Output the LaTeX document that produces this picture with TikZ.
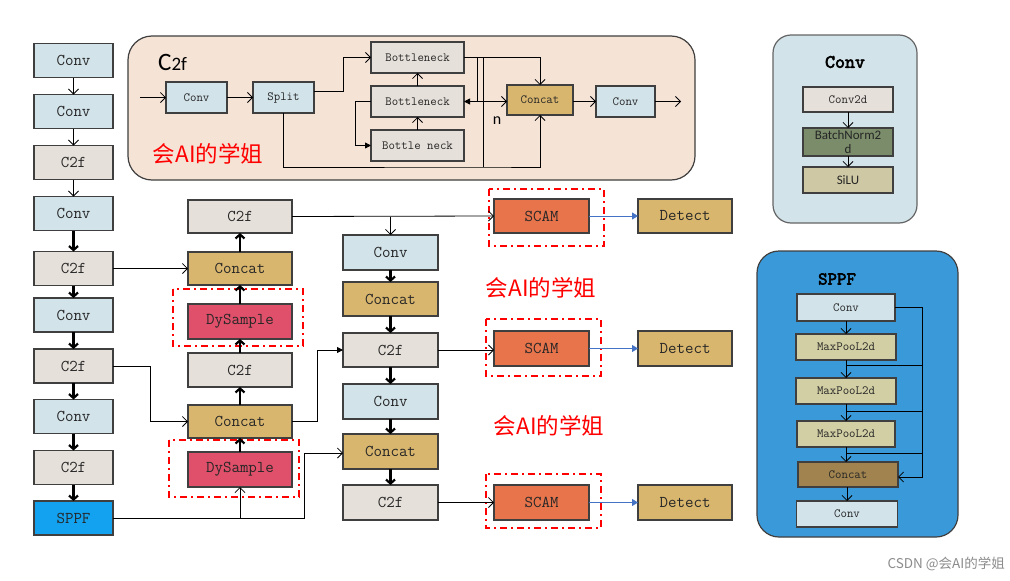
\documentclass[tikz,border=0pt]{standalone}
\usepackage{fontspec}
\setsansfont{Carlito}
\newfontfamily\cjk{Noto Sans CJK SC}
\newfontfamily\ttbold{lmmono10-regular}[Extension=.otf, FakeBold=3]
\usetikzlibrary{arrows.meta}
\definecolor{cblue}{HTML}{D2E3EA}
\definecolor{cgrey}{HTML}{E6E0DA}
\definecolor{cgold}{HTML}{D9B66E}
\definecolor{cdys}{HTML}{E0506A}
\definecolor{cscam}{HTML}{E8744C}
\definecolor{csppf}{HTML}{12A2F0}
\definecolor{bd}{HTML}{3F3F3F}
\definecolor{cpeach}{HTML}{F5E3D6}
\definecolor{cpanel}{HTML}{D2E3EA}
\definecolor{cbn}{HTML}{7A8C6A}
\definecolor{csilu}{HTML}{CEC8A4}
\definecolor{cmax}{HTML}{D2CFA4}
\definecolor{cspcat}{HTML}{A0834E}
\definecolor{cspbg}{HTML}{3A9AD9}
\definecolor{arrblue}{HTML}{4472C4}
\tikzset{
  box/.style={draw=bd, line width=1.1pt, inner sep=0pt, outer sep=0pt, text=black!85,
     font=\ttfamily\fontsize{16.5}{18}\selectfont},
  sbox/.style={box, font=\ttfamily\fontsize{12.5}{14}\selectfont},
  thinarr/.style={draw=black, line width=0.8pt, -{Straight Barb[length=5pt,width=10pt]}},
  thickarr/.style={draw=black, line width=2.2pt, -{Straight Barb[length=4pt,width=9pt]}},
  filarr/.style={draw=black, line width=0.8pt, -{Triangle[length=6pt,width=6pt]}},
  bluearr/.style={draw=arrblue, line width=1pt, -{Triangle[length=6pt,width=7pt]}},
  reddash/.style={draw=red, line width=1.8pt, dash pattern=on 7pt off 4pt on 2pt off 4pt},
  wm/.style={text=red, font=\cjk\fontsize{22.5}{24}\selectfont, inner sep=0pt},
  plain/.style={draw=black, line width=0.8pt}
}
\begin{document}
\begin{tikzpicture}[x=1pt,y=-1pt]
\useasboundingbox[fill=white] (0,0) rectangle (1010,581);

% ===== Panels =====
\draw[draw=bd, line width=1.2pt, fill=cpeach, rounded corners=24pt] (128,36) rectangle (695,180);
\draw[draw=bd!80, line width=1.2pt, fill=cpanel, rounded corners=18pt] (773,35) rectangle (917,223);
\draw[draw=bd, line width=1.2pt, fill=cspbg, rounded corners=22pt] (757,251) rectangle (958,537);

% ===== Left column =====
\node[box, fill=cblue, minimum width=79pt, minimum height=34pt] (l1) at (73.5,60.5) {Conv};
\node[box, fill=cblue, minimum width=79pt, minimum height=34pt] (l2) at (73.5,111.5) {Conv};
\node[box, fill=cgrey, minimum width=79pt, minimum height=34pt] (l3) at (73.5,162.5) {C2f};
\node[box, fill=cblue, minimum width=79pt, minimum height=34pt] (l4) at (73.5,213.5) {Conv};
\node[box, fill=cgrey, minimum width=79pt, minimum height=34pt] (l5) at (73.5,268.5) {C2f};
\node[box, fill=cblue, minimum width=79pt, minimum height=34pt] (l6) at (73.5,315) {Conv};
\node[box, fill=cgrey, minimum width=79pt, minimum height=34pt] (l7) at (73.5,366) {C2f};
\node[box, fill=cblue, minimum width=79pt, minimum height=34pt] (l8) at (73.5,416.5) {Conv};
\node[box, fill=cgrey, minimum width=79pt, minimum height=34pt] (l9) at (73.5,467.5) {C2f};
\node[box, fill=csppf, minimum width=79pt, minimum height=34pt] (l10) at (73.5,518) {SPPF};

\draw[thinarr] (l1) -- (l2);
\draw[thinarr] (l2) -- (l3);
\draw[thinarr] (l3) -- (l4);
\draw[thickarr] (l4) -- (l5);
\draw[thickarr] (l5) -- (l6);
\draw[thickarr] (l6) -- (l7);
\draw[thickarr] (l7) -- (l8);
\draw[thickarr] (l8) -- (l9);
\draw[thickarr] (l9) -- (l10);

% ===== Middle column =====
\node[box, fill=cgrey, minimum width=104pt, minimum height=33pt] (m1) at (240,216.5) {C2f};
\node[box, fill=cgold, minimum width=104pt, minimum height=33pt] (m2) at (240,268.5) {Concat};
\node[box, fill=cdys, minimum width=104pt, minimum height=35pt] (m3) at (240,321.5) {DySample};
\node[box, fill=cgrey, minimum width=104pt, minimum height=34pt] (m4) at (240,370) {C2f};
\node[box, fill=cgold, minimum width=104pt, minimum height=33pt] (m5) at (240,421.5) {Concat};
\node[box, fill=cdys, minimum width=104pt, minimum height=35pt] (m6) at (240,469.5) {DySample};
\draw[reddash] (173,289) rectangle (303,346);
\draw[reddash] (169,440) rectangle (299,497);

\draw[thickarr] (m6) -- (m5);
\draw[thickarr] (m5) -- (m4);
\draw[thickarr] (m4) -- (m3);
\draw[thickarr] (m3) -- (m2);
\draw[thickarr] (m2) -- (m1);

% ===== Second column =====
\node[box, fill=cblue, minimum width=95pt, minimum height=35pt] (c1) at (390.5,252.5) {Conv};
\node[box, fill=cgold, minimum width=95pt, minimum height=34pt] (c2) at (390.5,299) {Concat};
\node[box, fill=cgrey, minimum width=95pt, minimum height=34pt] (c3) at (390.5,350) {C2f};
\node[box, fill=cblue, minimum width=95pt, minimum height=35pt] (c4) at (390.5,401.5) {Conv};
\node[box, fill=cgold, minimum width=95pt, minimum height=35pt] (c5) at (390.5,451.5) {Concat};
\node[box, fill=cgrey, minimum width=95pt, minimum height=35pt] (c6) at (390.5,502.5) {C2f};
\draw[thickarr] (c1) -- (c2);
\draw[thickarr] (c2) -- (c3);
\draw[thickarr] (c3) -- (c4);
\draw[thickarr] (c4) -- (c5);
\draw[thickarr] (c5) -- (c6);

% ===== SCAM / Detect =====
\node[box, fill=cscam, minimum width=95pt, minimum height=34pt] (s1) at (541.5,216) {SCAM};
\node[box, fill=cscam, minimum width=95pt, minimum height=35pt] (s2) at (541.5,348.5) {SCAM};
\node[box, fill=cscam, minimum width=95pt, minimum height=35pt] (s3) at (541.5,502.5) {SCAM};
\node[box, fill=cgold, minimum width=94pt, minimum height=34pt] (d1) at (685,216) {Detect};
\node[box, fill=cgold, minimum width=94pt, minimum height=35pt] (d2) at (685,348.5) {Detect};
\node[box, fill=cgold, minimum width=94pt, minimum height=35pt] (d3) at (685,502.5) {Detect};
\draw[reddash] (489,189) rectangle (604,246);
\draw[reddash] (486,319) rectangle (601,376);
\draw[reddash] (486,474) rectangle (601,528);
\draw[bluearr] (s1) -- (d1);
\draw[bluearr] (s2) -- (d2);
\draw[bluearr] (s3) -- (d3);

% ===== Cross connections =====
\draw[thinarr] (l5) -- (m2);
\draw[thinarr] (l7.east) -- (150,366) |- (m5.west);
\coordinate (sp) at (240,518);
\draw[plain] (l10.east) -- (304,518) -- (304,453);
\draw[thinarr] (sp) -- (m6.south);
\draw[thinarr] (304,453) -- (c5.west |- 0,453);
\draw[filarr] (m5.east) -- (317,421.5) |- (c3.west);
\draw[thinarr] (m1.east) -- (s1.west);
\draw[thinarr] (c1.north |- m1.east) -- (c1.north);
\draw[thinarr] (c3.east) -- (s2.west |- c3.east);
\draw[thinarr] (c6.east) -- (s3.west);

% ===== Watermarks =====
\node[wm] (w1) at (541,288) {会AI的学姐};
\node[wm] (w2) at (549,426) {会AI的学姐};
\node[wm] (w3) at (208,154) {会AI的学姐};
\node[text=black!45, font=\cjk\fontsize{13.5}{15}\selectfont, inner sep=0pt, anchor=east] (csdn) at (1005,564) {CSDN @会AI的学姐};

% ===== C2f panel =====
\node[inner sep=0pt, anchor=base west, font=\sffamily\fontsize{25}{26}\selectfont] (c2ft) at (158,70) {C\fontsize{19}{20}\selectfont 2f};
\coordinate (cin) at (140,97.5);
\node[sbox, fill=cblue, minimum width=61pt, minimum height=31pt] (cconv) at (196.5,97.5) {Conv};
\node[sbox, fill=cblue, minimum width=61pt, minimum height=31pt] (csplit) at (283.5,97.5) {Split};
\node[sbox, fill=cgrey, minimum width=93pt, minimum height=31pt] (bn1) at (417.5,57.5) {Bottleneck};
\node[sbox, fill=cgrey, minimum width=93pt, minimum height=31pt] (bn2) at (417.5,101.5) {Bottleneck};
\node[sbox, fill=cgrey, minimum width=93pt, minimum height=31pt] (bn3) at (417.5,145.5) {Bottle neck};
\node[sbox, fill=cgold, minimum width=66pt, minimum height=30pt] (ccat) at (540,100) {Concat};
\node[sbox, fill=cblue, minimum width=59pt, minimum height=31pt] (cconv2) at (625.5,101.5) {Conv};
\coordinate (cout) at (681,101.5);
\node[inner sep=0pt, font=\sffamily\fontsize{16}{17}\selectfont] (nlab) at (497,121) {n};

\draw[thinarr] (cin) -- (cconv);
\draw[thinarr] (cconv) -- (csplit);
\draw[thinarr] ([yshift=6.5pt]csplit.east) -- (343,91) |- (bn1.west);
\draw[filarr] (bn2.west) -- (355,101.5) |- (bn3.west);
\draw[thinarr] (bn3) -- (bn2);
\draw[thinarr] (bn2) -- (bn1);
\draw[thinarr] (bn1.east) -| (ccat.north);
\draw[plain] (477,57.5) -- (477,101.5);
\draw[plain] (483,57.5) -- (483,167);
\draw[thinarr] (csplit.south) |- (483,167) -| (ccat.south);
\draw[draw=black, line width=0.8pt, {Triangle[length=6pt,width=6pt]}-{Straight Barb[length=5pt,width=10pt]}] (bn2.east) -- (ccat.west |- bn2.east);
\draw[thinarr] (ccat.east |- cconv2.west) -- (cconv2.west);
\draw[thinarr] (cconv2) -- (cout);

% ===== Conv panel =====
\node[inner sep=0pt, font=\ttbold\fontsize{19}{20}\selectfont] (pct) at (845,62) {Conv};
\node[sbox, fill=cgrey, minimum width=90pt, minimum height=25pt] (p1) at (848,99.5) {Conv2d};
\node[box, fill=cbn, minimum width=90pt, minimum height=28pt, align=center,
      font=\sffamily\fontsize{13}{13.5}\selectfont] (p2) at (848,142) {BatchNorm2\\d};
\node[box, fill=csilu, minimum width=90pt, minimum height=26pt,
      font=\sffamily\fontsize{13}{13.5}\selectfont] (p3) at (848,180) {SiLU};
\draw[thinarr] (p1) -- (p2);
\draw[thinarr] (p2) -- (p3);

% ===== SPPF panel =====
\node[inner sep=0pt, font=\ttbold\fontsize{18}{19}\selectfont] (spt) at (837,279) {SPPF};
\node[sbox, fill=cblue, minimum width=98pt, minimum height=27pt] (q1) at (846,307.5) {Conv};
\node[sbox, fill=cmax, minimum width=100pt, minimum height=26pt] (q2) at (846,347) {MaxPooL2d};
\node[sbox, fill=cmax, minimum width=100pt, minimum height=26pt] (q3) at (846,391) {MaxPooL2d};
\node[sbox, fill=cmax, minimum width=98pt, minimum height=26pt] (q4) at (846,434) {MaxPooL2d};
\node[sbox, fill=cspcat, minimum width=100pt, minimum height=25pt] (q5) at (848,474.5) {Concat};
\node[sbox, fill=cblue, minimum width=101pt, minimum height=26pt] (q6) at (847,514) {Conv};
\draw[thinarr] (q1) -- (q2);
\draw[thinarr] (q2) -- (q3);
\draw[thinarr] (q3) -- (q4);
\draw[thinarr] (q4.south) -- (q4.south |- q5.north);
\draw[thinarr] (q5.south -| q6.north) -- (q6.north);
\draw[thinarr] (q1.east) -| (922,477) -- (q5.east |- 0,477);
\draw[plain] (846,365) -- (922,365);
\draw[plain] (846,411) -- (922,411);
\draw[plain] (846,453) -- (922,453);
\end{tikzpicture}
\end{document}
